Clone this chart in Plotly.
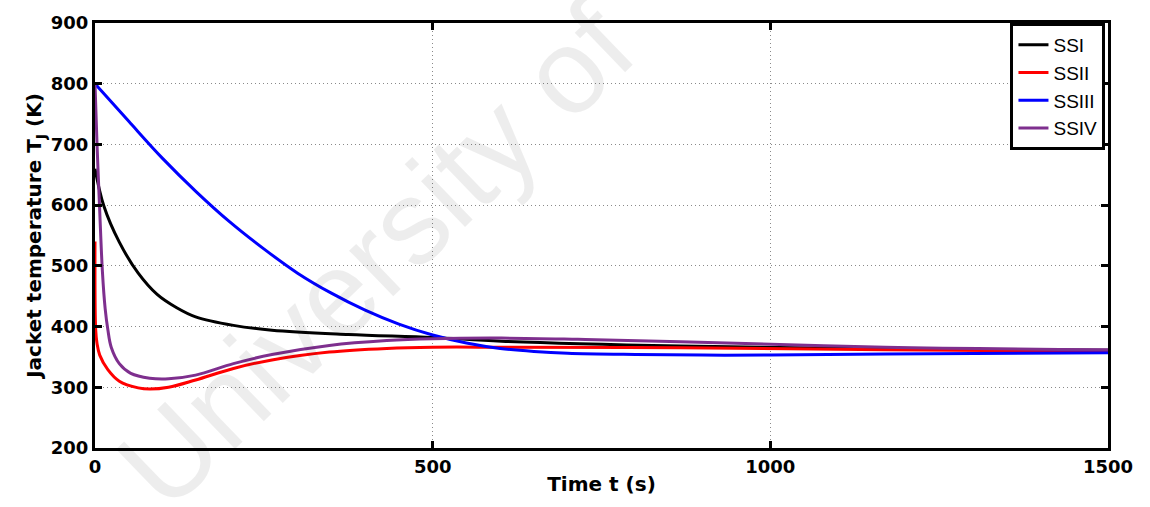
import plotly.graph_objects as go

# ---- data ----
t_ssi = [0, 13, 36, 64, 92, 121, 149, 205, 262, 375, 500, 602, 867, 1170, 1500]
v_ssi = [660, 599, 539, 488, 453, 431, 416, 402, 394, 387, 382, 376, 368, 363, 361]

t_ssii = [0, 1, 3, 7, 19, 36, 64, 81, 109, 149, 205, 262, 347, 432, 500, 602, 867, 1170, 1500]
v_ssii = [540, 395, 372, 353, 329, 310, 299, 297, 300, 312, 331, 345, 358, 364, 366, 366, 365, 362, 359]

t_ssiii = [0, 50, 100, 150, 200, 250, 300, 350, 400, 450, 500, 550, 600, 650, 700, 800, 900, 1000, 1170, 1500]
v_ssiii = [800, 738, 677, 622, 572, 528, 488, 455, 427, 404, 386, 373, 364, 359, 356, 354, 353, 353, 355, 357]

t_ssiv = [0, 3, 7, 11, 15, 19, 24, 36, 53, 81, 109, 149, 205, 262, 347, 432, 500, 602, 715, 867, 1170, 1500]
v_ssiv = [800, 700, 590, 490, 430, 395, 366, 339, 323, 315, 314, 320, 339, 354, 369, 377, 380, 381, 379, 375, 366, 362]

names = ["SSI", "SSII", "SSIII", "SSIV"]
colors = ["#000000", "#ff0000", "#0000ff", "#7e2f8e"]
x_ticks = [0, 500, 1000, 1500]
y_ticks = [200, 300, 400, 500, 600, 700, 800, 900]

series = [(t_ssi, v_ssi), (t_ssii, v_ssii), (t_ssiii, v_ssiii), (t_ssiv, v_ssiv)]

fig = go.Figure()
for (tx, vy), name, col in zip(series, names, colors):
    fig.add_trace(go.Scatter(
        x=tx, y=vy, name=name, mode="lines",
        line=dict(color=col, width=3, shape="spline", smoothing=1.0),
    ))

FONT = "DejaVu Sans"
axis_common = dict(
    showline=True, linecolor="black", linewidth=3, mirror="allticks",
    ticks="inside", ticklen=7, tickwidth=3, tickcolor="black",
    showgrid=True, gridcolor="#8a8a8a", griddash="1px,3px", gridwidth=1,
    zeroline=False,
    tickfont=dict(family=FONT, size=18, color="black"),
)

fig.update_layout(
    width=1150, height=507,
    margin=dict(l=95, r=42, t=18, b=59),
    paper_bgcolor="white", plot_bgcolor="white",
    font=dict(family=FONT, color="black"),
    xaxis=dict(
        range=[0, 1500], tickvals=x_ticks, ticktext=["<b>%d</b>" % v for v in x_ticks],
        title=dict(text="<b>Time t (s)</b>", font=dict(family=FONT, size=20), standoff=2),
        **axis_common,
    ),
    yaxis=dict(
        range=[200, 900], tickvals=y_ticks, ticktext=["<b>%d</b>" % v for v in y_ticks],
        title=dict(text="<b>Jacket temperature T<sub>J</sub> (K)</b>", font=dict(family=FONT, size=20), standoff=4),
        **axis_common,
    ),
    legend=dict(
        x=0.9975, y=1.0, xanchor="right", yanchor="top",
        bgcolor="white", bordercolor="black", borderwidth=3,
        font=dict(family="Liberation Sans", size=19, color="black"),
        itemwidth=30, tracegroupgap=0, entrywidth=104,
    ),
    showlegend=True,
)

fig.add_annotation(
    text="University of", xref="paper", yref="paper", x=0.277, y=0.453,
    xanchor="center", yanchor="middle",
    showarrow=False, textangle=-44,
    font=dict(family="Liberation Sans", size=120, color="rgba(0,0,0,0.07)"),
)

fig.write_html("out.html")
